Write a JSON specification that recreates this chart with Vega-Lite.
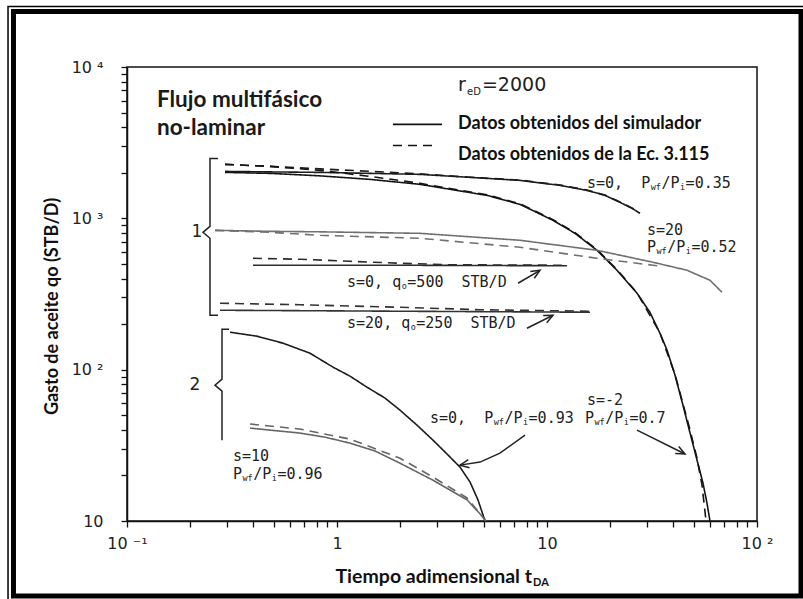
{
  "$schema": "https://vega.github.io/schema/vega-lite/v6.json",
  "width": 630,
  "height": 454,
  "autosize": {"type": "none"},
  "padding": {"left": 127, "top": 67, "right": 46, "bottom": 78},
  "background": "white",
  "config": {
    "view": {"stroke": "#111", "strokeWidth": 1.5},
    "axis": {"grid": false, "domainColor": "#111", "domainWidth": 1.5, "tickColor": "#111", "tickWidth": 1.3, "tickSize": 6, "labelFont": "DejaVu Sans", "labelFontSize": 16, "labelColor": "#222", "labelOverlap": false, "labelFlush": false, "labelBound": false, "titleFont": "Lato", "titleFontWeight": "bold", "titleFontSize": 18, "titleColor": "#111"}
  },
  "encoding": {
    "x": {"field": "x", "type": "quantitative",
      "scale": {"type": "log", "domain": [0.1, 100], "nice": false},
      "axis": {
        "values": [0.1,0.2,0.3,0.4,0.5,0.6,0.7,0.8,0.9,1,2,3,4,5,6,7,8,9,10,20,30,40,50,60,70,80,90,100],
        "labelExpr": "datum.value == 0.1 ? '10 ⁻¹' : datum.value == 1 ? '1' : datum.value == 10 ? '10' : datum.value == 100 ? '10 ²' : ''",
        "labelPadding": 8,
        "title": "Tiempo adimensional t",
        "titleFontSize": 19.5,
        "titleAnchor": "start", "titleAlign": "left", "titleX": 208, "titleY": 61, "titleBaseline": "alphabetic"
      }
    },
    "y": {"field": "y", "type": "quantitative",
      "scale": {"type": "log", "domain": [10, 10000], "nice": false},
      "axis": {
        "values": [10,20,30,40,50,60,70,80,90,100,200,300,400,500,600,700,800,900,1000,2000,3000,4000,5000,6000,7000,8000,9000,10000],
        "labelExpr": "datum.value == 10 ? '10' : datum.value == 100 ? '10 ²' : datum.value == 1000 ? '10 ³' : datum.value == 10000 ? '10 ⁴' : ''",
        "labelPadding": 18,
        "title": "Gasto de aceite qo (STB/D)",
        "titleAngle": 270, "titleAlign": "center", "titleBaseline": "middle", "titleX": -75, "titleY": 239
      }
    }
  },
  "layer": [
    {
      "data": {"values": [{"x": 0.0288, "x2": 162.0, "y": 23240, "y2": 3.199}]},
      "mark": {"type": "rect", "filled": false, "stroke": "#000", "strokeWidth": 5},
      "encoding": {"x2": {"field": "x2"}, "y2": {"field": "y2"}}
    },
    {
      "data": {"values": [{"x": 0.02713, "x2": 171.1, "y": 25070, "y2": 2.92}]},
      "mark": {"type": "rect", "filled": false, "stroke": "#000", "strokeWidth": 1.5},
      "encoding": {"x2": {"field": "x2"}, "y2": {"field": "y2"}}
    },
    {
      "data": {"values": [
        {"curva":"A","tipo":"sim","x":0.2929,"y":2043},{"curva":"A","tipo":"sim","x":0.4797,"y":2027},{"curva":"A","tipo":"sim","x":0.83,"y":2012},{"curva":"A","tipo":"sim","x":1.436,"y":1982},{"curva":"A","tipo":"sim","x":2.485,"y":1952},{"curva":"A","tipo":"sim","x":4.3,"y":1865},{"curva":"A","tipo":"sim","x":7.44,"y":1781},{"curva":"A","tipo":"sim","x":11.53,"y":1651},{"curva":"A","tipo":"sim","x":15.5,"y":1530},{"curva":"A","tipo":"sim","x":18.89,"y":1418},{"curva":"A","tipo":"sim","x":22.27,"y":1275},{"curva":"A","tipo":"sim","x":25.4,"y":1164},{"curva":"A","tipo":"sim","x":27.7,"y":1079},
        {"curva":"A","tipo":"ec","x":0.2929,"y":2272},{"curva":"A","tipo":"ec","x":0.4797,"y":2204},{"curva":"A","tipo":"ec","x":0.83,"y":2122},{"curva":"A","tipo":"ec","x":1.436,"y":2043},{"curva":"A","tipo":"ec","x":2.485,"y":1967},{"curva":"A","tipo":"ec","x":4.3,"y":1870},{"curva":"A","tipo":"ec","x":7.44,"y":1790},{"curva":"A","tipo":"ec","x":11.53,"y":1660},{"curva":"A","tipo":"ec","x":15.5,"y":1538},{"curva":"A","tipo":"ec","x":18.89,"y":1425},{"curva":"A","tipo":"ec","x":22.27,"y":1282},{"curva":"A","tipo":"ec","x":25.4,"y":1170},{"curva":"A","tipo":"ec","x":27.7,"y":1085},
        {"curva":"B","tipo":"sim","x":0.2929,"y":2012},{"curva":"B","tipo":"sim","x":0.4797,"y":1982},{"curva":"B","tipo":"sim","x":0.83,"y":1908},{"curva":"B","tipo":"sim","x":1.436,"y":1809},{"curva":"B","tipo":"sim","x":2.485,"y":1677},{"curva":"B","tipo":"sim","x":5.18,"y":1418},{"curva":"B","tipo":"sim","x":7.44,"y":1237},{"curva":"B","tipo":"sim","x":10.68,"y":970},{"curva":"B","tipo":"sim","x":13.59,"y":796},{"curva":"B","tipo":"sim","x":17.3,"y":615},{"curva":"B","tipo":"sim","x":21.54,"y":454},{"curva":"B","tipo":"sim","x":26.83,"y":320},{"curva":"B","tipo":"sim","x":30.9,"y":239.6},{"curva":"B","tipo":"sim","x":34.5,"y":174.2},{"curva":"B","tipo":"sim","x":37.3,"y":134.5},{"curva":"B","tipo":"sim","x":40.7,"y":92},{"curva":"B","tipo":"sim","x":44.4,"y":58.3},{"curva":"B","tipo":"sim","x":48,"y":38.1},{"curva":"B","tipo":"sim","x":51.8,"y":25.3},{"curva":"B","tipo":"sim","x":55.3,"y":17.8},{"curva":"B","tipo":"sim","x":57.8,"y":13.1},{"curva":"B","tipo":"sim","x":59.7,"y":10},
        {"curva":"B","tipo":"ec","x":0.2929,"y":2272},{"curva":"B","tipo":"ec","x":0.4797,"y":2204},{"curva":"B","tipo":"ec","x":0.83,"y":2074},{"curva":"B","tipo":"ec","x":1.436,"y":1894},{"curva":"B","tipo":"ec","x":2.485,"y":1702},{"curva":"B","tipo":"ec","x":5.18,"y":1430},{"curva":"B","tipo":"ec","x":7.44,"y":1248},{"curva":"B","tipo":"ec","x":10.68,"y":980},{"curva":"B","tipo":"ec","x":13.59,"y":805},{"curva":"B","tipo":"ec","x":17.3,"y":622},{"curva":"B","tipo":"ec","x":21.54,"y":458},{"curva":"B","tipo":"ec","x":26.83,"y":322},{"curva":"B","tipo":"ec","x":34.5,"y":175},{"curva":"B","tipo":"ec","x":40.7,"y":93},{"curva":"B","tipo":"ec","x":48,"y":39.9},{"curva":"B","tipo":"ec","x":51.8,"y":26},{"curva":"B","tipo":"ec","x":54.7,"y":17.3},{"curva":"B","tipo":"ec","x":57.2,"y":10},
        {"curva":"C","tipo":"sim","x":0.2624,"y":833},{"curva":"C","tipo":"sim","x":0.4797,"y":820.6},{"curva":"C","tipo":"sim","x":0.83,"y":814.4},{"curva":"C","tipo":"sim","x":2.485,"y":796},{"curva":"C","tipo":"sim","x":7.44,"y":716},{"curva":"C","tipo":"sim","x":17.3,"y":615},{"curva":"C","tipo":"sim","x":31.97,"y":512.6},{"curva":"C","tipo":"sim","x":46.4,"y":454},{"curva":"C","tipo":"sim","x":59.7,"y":389.8},{"curva":"C","tipo":"sim","x":68.1,"y":324.9},
        {"curva":"C","tipo":"ec","x":0.2624,"y":833},{"curva":"C","tipo":"ec","x":0.4797,"y":808.4},{"curva":"C","tipo":"ec","x":0.83,"y":772.3},{"curva":"C","tipo":"ec","x":2.485,"y":738},{"curva":"C","tipo":"ec","x":7.44,"y":643.6},{"curva":"C","tipo":"ec","x":17.3,"y":544.5},{"curva":"C","tipo":"ec","x":31.97,"y":489.7},{"curva":"C","tipo":"ec","x":35.3,"y":482.3},
        {"curva":"D","tipo":"sim","x":0.398,"y":489.7},{"curva":"D","tipo":"sim","x":1.995,"y":489.7},{"curva":"D","tipo":"sim","x":12.45,"y":486},
        {"curva":"D","tipo":"ec","x":0.398,"y":544.5},{"curva":"D","tipo":"ec","x":0.6667,"y":536.3},{"curva":"D","tipo":"ec","x":1.153,"y":520.3},{"curva":"D","tipo":"ec","x":1.995,"y":504.7},{"curva":"D","tipo":"ec","x":3.452,"y":493.4},{"curva":"D","tipo":"ec","x":12.45,"y":489.7},
        {"curva":"E","tipo":"sim","x":0.2773,"y":247},{"curva":"E","tipo":"sim","x":1.995,"y":243.3},{"curva":"E","tipo":"sim","x":16.02,"y":239.6},
        {"curva":"E","tipo":"ec","x":0.2773,"y":274.8},{"curva":"E","tipo":"ec","x":0.6667,"y":268.5},{"curva":"E","tipo":"ec","x":1.995,"y":258.5},{"curva":"E","tipo":"ec","x":4.8,"y":248.9},{"curva":"E","tipo":"ec","x":16.02,"y":243.3},
        {"curva":"F","tipo":"sim","x":0.3094,"y":176.8},{"curva":"F","tipo":"sim","x":0.416,"y":166.4},{"curva":"F","tipo":"sim","x":0.553,"y":149.6},{"curva":"F","tipo":"sim","x":0.7434,"y":128.5},{"curva":"F","tipo":"sim","x":0.957,"y":103.9},{"curva":"F","tipo":"sim","x":1.153,"y":90.6},{"curva":"F","tipo":"sim","x":1.389,"y":76.6},{"curva":"F","tipo":"sim","x":1.693,"y":64.9},{"curva":"F","tipo":"sim","x":1.995,"y":54},{"curva":"F","tipo":"sim","x":2.404,"y":43},{"curva":"F","tipo":"sim","x":2.865,"y":34.2},{"curva":"F","tipo":"sim","x":3.342,"y":27.7},{"curva":"F","tipo":"sim","x":3.853,"y":22.7},{"curva":"F","tipo":"sim","x":4.3,"y":18.1},{"curva":"F","tipo":"sim","x":4.69,"y":13.8},{"curva":"F","tipo":"sim","x":5.07,"y":10},
        {"curva":"G","tipo":"sim","x":0.3853,"y":41.1},{"curva":"G","tipo":"sim","x":0.6667,"y":38.1},{"curva":"G","tipo":"sim","x":0.877,"y":35.8},{"curva":"G","tipo":"sim","x":1.153,"y":32.7},{"curva":"G","tipo":"sim","x":1.517,"y":29},{"curva":"G","tipo":"sim","x":1.995,"y":24.1},{"curva":"G","tipo":"sim","x":2.865,"y":18.6},{"curva":"G","tipo":"sim","x":4.16,"y":13.8},{"curva":"G","tipo":"sim","x":4.96,"y":10.6},{"curva":"G","tipo":"sim","x":5.12,"y":10},
        {"curva":"G","tipo":"ec","x":0.3853,"y":43.7},{"curva":"G","tipo":"ec","x":0.6667,"y":40.5},{"curva":"G","tipo":"ec","x":1.153,"y":34.8},{"curva":"G","tipo":"ec","x":1.995,"y":26},{"curva":"G","tipo":"ec","x":2.865,"y":19.5},{"curva":"G","tipo":"ec","x":4.16,"y":14.2},{"curva":"G","tipo":"ec","x":5.12,"y":10}
      ]},
      "mark": {"type": "line", "strokeWidth": 1.6},
      "encoding": {
        "color": {"field": "curva", "type": "nominal", "legend": null,
          "scale": {"domain": ["A","B","C","D","E","F","G"], "range": ["#1c1c1c","#141414","#707070","#2b2b2b","#333333","#1c1c1c","#666666"]}},
        "strokeDash": {"field": "tipo", "type": "nominal", "legend": null,
          "scale": {"domain": ["sim","ec"], "range": [[1,0],[9,6]]}}
      }
    },
    {
      "data": {"values": [
        {"tipo":"sim","x":1.848,"y":4174},{"tipo":"sim","x":3.162,"y":4174},
        {"tipo":"ec","x":1.848,"y":3032},{"tipo":"ec","x":3.027,"y":3032}
      ]},
      "mark": {"type": "line", "strokeWidth": 1.6, "color": "#111"},
      "encoding": {
        "detail": {"field": "tipo"},
        "strokeDash": {"field": "tipo", "type": "nominal", "legend": null}
      }
    },
    {
      "data": {"values": [
        {"x":3.77,"y":4174,"texto":"Datos obtenidos del simulador"},
        {"x":3.77,"y":2605,"texto":"Datos obtenidos de la Ec. 3.115"}
      ]},
      "mark": {"type": "text", "align": "left", "baseline": "middle", "font": "Lato", "fontWeight": "bold", "fontSize": 18, "color": "#111"},
      "encoding": {"text": {"field": "texto"}}
    },
    {
      "data": {"values": [
        {"id":"b1","k":0,"x":0.2713,"y":2489},{"id":"b1","k":1,"x":0.2484,"y":2489},{"id":"b1","k":2,"x":0.2484,"y":885.6},{"id":"b1","k":3,"x":0.2301,"y":808.4},{"id":"b1","k":4,"x":0.2484,"y":738},{"id":"b1","k":5,"x":0.2484,"y":228.9},{"id":"b1","k":6,"x":0.2713,"y":228.9},
        {"id":"b2","k":0,"x":0.306,"y":185},{"id":"b2","k":1,"x":0.2834,"y":185},{"id":"b2","k":2,"x":0.2834,"y":86.6},{"id":"b2","k":3,"x":0.2624,"y":79},{"id":"b2","k":4,"x":0.2834,"y":72.1},{"id":"b2","k":5,"x":0.2834,"y":34.2},
        {"id":"a1","k":0,"x":7.277,"y":372.4},{"id":"a1","k":1,"x":9.261,"y":453.7},
        {"id":"a1h","k":0,"x":8.7,"y":401.8},{"id":"a1h","k":1,"x":9.261,"y":453.7},{"id":"a1h","k":2,"x":8.33,"y":445.5},
        {"id":"a2","k":0,"x":8.03,"y":187.9},{"id":"a2","k":1,"x":10.68,"y":228.9},
        {"id":"a2h","k":0,"x":9.97,"y":204},{"id":"a2h","k":1,"x":10.68,"y":228.9},{"id":"a2h","k":2,"x":9.59,"y":227.6},
        {"id":"a3","k":0,"x":7.86,"y":36.95},{"id":"a3","k":1,"x":5.97,"y":28.1},{"id":"a3","k":2,"x":4.8,"y":24.5},{"id":"a3","k":3,"x":3.853,"y":23.4},
        {"id":"a3h","k":0,"x":4.276,"y":22.5},{"id":"a3h","k":1,"x":3.853,"y":23.4},{"id":"a3h","k":2,"x":4.22,"y":25.4},
        {"id":"a4","k":0,"x":26.83,"y":39.9},{"id":"a4","k":1,"x":45.4,"y":27.7},
        {"id":"a4h","k":0,"x":40.8,"y":27.9},{"id":"a4h","k":1,"x":45.4,"y":27.7},{"id":"a4h","k":2,"x":42.4,"y":31.1}
      ]},
      "mark": {"type": "line", "color": "#222", "strokeWidth": 1.5},
      "encoding": {"detail": {"field": "id"}, "order": {"field": "k", "type": "quantitative"}}
    },
    {
      "data": {"values": [
        {"x":15.5,"y":1702,"texto":"s=0,\u00a0\u00a0P"},
        {"x":35.06,"y":1702,"texto":"/P"},
        {"x":45.71,"y":1702,"texto":"=0.35"},
        {"x":29.9,"y":833,"texto":"s=20"},
        {"x":29.9,"y":644,"texto":"P"},
        {"x":37.36,"y":644,"texto":"/P"},
        {"x":48.71,"y":644,"texto":"=0.52"},
        {"x":1.116,"y":378,"texto":"s=0, q"},
        {"x":2.162,"y":378,"texto":"=500\u00a0\u00a0STB/D"},
        {"x":1.116,"y":202.7,"texto":"s=20, q"},
        {"x":2.386,"y":202.7,"texto":"=250\u00a0\u00a0STB/D"},
        {"x":2.773,"y":47.9,"texto":"s=0,\u00a0\u00a0P"},
        {"x":6.268,"y":47.9,"texto":"/P"},
        {"x":8.17,"y":47.9,"texto":"=0.93"},
        {"x":15.5,"y":62.9,"texto":"s=-2"},
        {"x":15.17,"y":47.9,"texto":"P"},
        {"x":18.93,"y":47.9,"texto":"/P"},
        {"x":24.69,"y":47.9,"texto":"=0.7"},
        {"x":0.3198,"y":26.85,"texto":"s=10"},
        {"x":0.3198,"y":20.43,"texto":"P"},
        {"x":0.399,"y":20.43,"texto":"/P"},
        {"x":0.5201,"y":20.43,"texto":"=0.96"}
      ]},
      "mark": {"type": "text", "align": "left", "baseline": "middle", "font": "DejaVu Sans Mono", "fontSize": 15, "color": "#222"},
      "encoding": {"text": {"field": "texto"}}
    },
    {
      "data": {"values": [
        {"x":31.17,"y":1602,"texto":"wf"},{"x":42.98,"y":1602,"texto":"i"},
        {"x":33.22,"y":606,"texto":"wf"},{"x":45.81,"y":606,"texto":"i"},
        {"x":2.033,"y":356,"texto":"o"},
        {"x":2.244,"y":190.8,"texto":"o"},
        {"x":5.575,"y":45.0,"texto":"wf"},{"x":7.688,"y":45.0,"texto":"i"},
        {"x":16.83,"y":45.0,"texto":"wf"},{"x":23.21,"y":45.0,"texto":"i"},
        {"x":0.3548,"y":19.22,"texto":"wf"},{"x":0.4893,"y":19.22,"texto":"i"}
      ]},
      "mark": {"type": "text", "align": "left", "baseline": "middle", "font": "DejaVu Sans Mono", "fontSize": 8.5, "color": "#222"},
      "encoding": {"text": {"field": "texto"}}
    },
    {
      "data": {"values": [
        {"x":0.1389,"y":5404,"texto":"Flujo multifásico"},
        {"x":0.1389,"y":3531,"texto":"no-laminar"}
      ]},
      "mark": {"type": "text", "align": "left", "baseline": "alphabetic", "font": "Lato", "fontWeight": "bold", "fontSize": 22.5, "color": "#1a1a1a"},
      "encoding": {"text": {"field": "texto"}}
    },
    {
      "data": {"values": [
        {"x":3.77,"y":6892,"texto":"r"},
        {"x":4.9,"y":6892,"texto":"=2000"}
      ]},
      "mark": {"type": "text", "align": "left", "baseline": "alphabetic", "font": "DejaVu Sans", "fontSize": 19, "color": "#222"},
      "encoding": {"text": {"field": "texto"}}
    },
    {
      "data": {"values": [{"x":4.16,"y":6485,"texto":"eD"}]},
      "mark": {"type": "text", "align": "left", "baseline": "alphabetic", "font": "DejaVu Sans", "fontSize": 10, "color": "#222"},
      "encoding": {"text": {"field": "texto"}}
    },
    {
      "data": {"values": [
        {"x":0.2154,"y":808.4,"texto":"1"},
        {"x":0.2108,"y":79,"texto":"2"}
      ]},
      "mark": {"type": "text", "align": "center", "baseline": "middle", "font": "DejaVu Sans", "fontSize": 17, "color": "#222"},
      "encoding": {"text": {"field": "texto"}}
    },
    {
      "data": {"values": [{"x":8.58,"y":3.72,"texto":"DA"}]},
      "mark": {"type": "text", "align": "left", "baseline": "alphabetic", "font": "Lato", "fontWeight": "bold", "fontSize": 11, "color": "#111"},
      "encoding": {"text": {"field": "texto"}}
    }
  ]
}
